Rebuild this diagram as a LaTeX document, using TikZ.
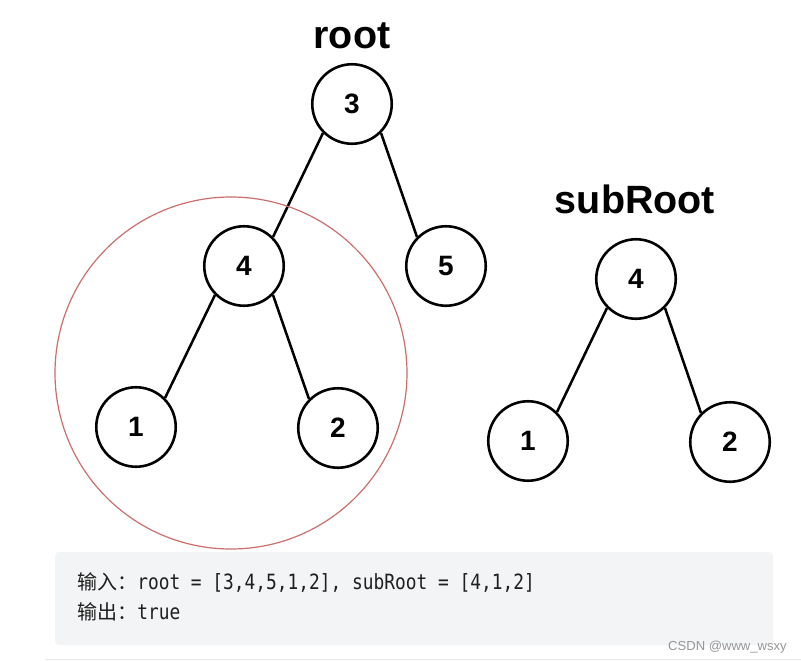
\documentclass[tikz,border=0pt]{standalone}
\usepackage{fontspec}
\setmainfont{Liberation Sans}
\newfontfamily\cjkfont{Noto Sans CJK SC}
\newfontfamily\codefont[FakeStretch=0.85]{DejaVu Sans Mono}
\definecolor{boxgray}{RGB}{243,244,245}
\definecolor{linegray}{RGB}{232,232,232}
\definecolor{circred}{RGB}{204,110,110}
\definecolor{wmgray}{RGB}{150,150,150}
\definecolor{codeink}{RGB}{30,30,30}
\begin{document}
\begin{tikzpicture}[x=0.75pt,y=-0.75pt,
  tnode/.style={circle,draw=black,line width=1.95pt,fill=white,minimum size=59.6pt,inner sep=0pt,font=\fontsize{21}{21}\selectfont\bfseries},
  edge/.style={line width=1.9pt,draw=black},
  title/.style={font=\fontsize{29.6}{30}\selectfont\bfseries,inner sep=0pt,anchor=base},
  codeline/.style={inner sep=0pt,anchor=base west,text=codeink}]
\useasboundingbox (0,0) rectangle (801,661);
\fill[white] (0,0) rectangle (801,661);

% titles
\node[title] (troot) at (352,48) {root};
\node[title] (tsub) at (635,213) {subRoot};

% left tree
\node[tnode] (n3) at (352,104) {3};
\node[tnode] (n4) at (244,266) {4};
\node[tnode] (n5) at (446,266) {5};
\node[tnode] (n1) at (136,427) {1};
\node[tnode] (n2) at (338,428) {2};

% right tree
\node[tnode] (m4) at (636,279) {4};
\node[tnode] (m1) at (528,441) {1};
\node[tnode] (m2) at (730,442) {2};

\draw[edge] (n3.-135) -- (n4.45);
\draw[edge] (n3.-45) -- (n5.135);
\draw[edge] (n4.-135) -- (n1.45);
\draw[edge] (n4.-45) -- (n2.135);
\draw[edge] (m4.-135) -- (m1.45);
\draw[edge] (m4.-45) -- (m2.135);

% highlight circle
\coordinate (hc) at (231,373);
\draw[circred,line width=0.9pt] (hc) circle[radius=176];

% code box
\fill[boxgray,rounded corners=3pt] (55,552) rectangle (773,645);
\node[codeline] (in) at (77,589) {{\cjkfont\fontsize{15}{16}\selectfont 输入：}{\codefont\fontsize{15.75}{18}\selectfont root = [3,4,5,1,2], subRoot = [4,1,2]}};
\node[codeline] (out) at (77,619) {{\cjkfont\fontsize{15}{16}\selectfont 输出：}{\codefont\fontsize{15.75}{18}\selectfont true}};

% watermark and bottom rule
\node[inner sep=0pt,anchor=base east,text=wmgray,font=\fontsize{9.8}{11}\selectfont] (wm) at (787,650) {CSDN @www\_wsxy};
\draw[linegray,line width=0.75pt] (45,659) -- (801,659);
\end{tikzpicture}
\end{document}
